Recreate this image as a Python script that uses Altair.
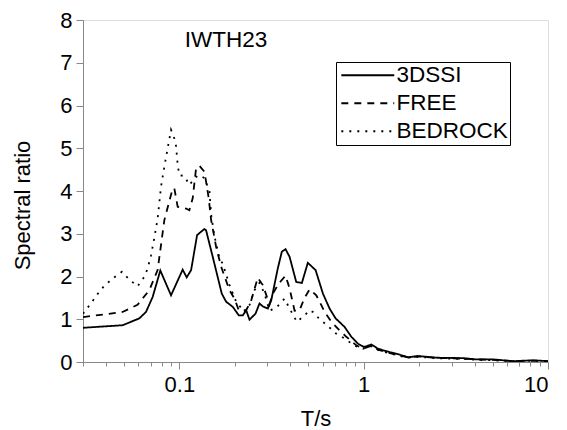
import altair as alt
import pandas as pd

# ---- data ----
series_names = ["3DSSI", "FREE", "BEDROCK"]

ssi_T = [0.03, 0.0492, 0.0606, 0.0659, 0.0716, 0.0788, 0.0901, 0.1042, 0.1096, 0.1158,
         0.1248, 0.1367, 0.1396, 0.1517, 0.1698, 0.1794, 0.1949, 0.2101, 0.2208, 0.2304,
         0.2401, 0.2588, 0.2722, 0.2836, 0.302, 0.315, 0.342, 0.3597, 0.3767, 0.3963,
         0.4307, 0.4621, 0.4977, 0.5483, 0.601, 0.653, 0.704, 0.788, 0.857, 0.931,
         1.004, 1.101, 1.197, 1.384, 1.57, 1.741, 1.973, 2.484, 3.465, 4.10,
         5.045, 6.48, 8.32, 10.0]
ssi_v = [0.80, 0.86, 1.02, 1.17, 1.52, 2.14, 1.56, 2.16, 1.98, 2.15,
         2.97, 3.11, 3.08, 2.46, 1.60, 1.41, 1.29, 1.09, 1.09, 1.21,
         0.99, 1.13, 1.37, 1.30, 1.25, 1.44, 2.19, 2.58, 2.64, 2.46,
         1.87, 1.85, 2.32, 2.15, 1.60, 1.25, 1.02, 0.82, 0.59, 0.43,
         0.35, 0.41, 0.31, 0.23, 0.17, 0.11, 0.14, 0.10, 0.09, 0.06,
         0.06, 0.02, 0.04, 0.02]

free_T = [0.03, 0.0492, 0.0593, 0.0687, 0.0762, 0.0829, 0.092, 0.0939, 0.0979, 0.1087,
          0.1133, 0.1181, 0.1232, 0.1284, 0.1367, 0.1396, 0.1443, 0.1487, 0.1583, 0.1685,
          0.187, 0.1991, 0.2101, 0.2304, 0.2453, 0.2664, 0.2836, 0.3083, 0.3214, 0.3467,
          0.3767, 0.3963, 0.4217, 0.4487, 0.4776, 0.5088, 0.553, 0.589, 0.614, 0.6675,
          0.74, 0.805, 0.912, 0.991, 1.101, 1.197, 1.384, 1.57, 1.741, 1.973,
          2.484, 3.465, 4.10, 5.045, 6.48, 8.32, 10.0]
free_v = [1.05, 1.17, 1.34, 1.68, 2.15, 3.32, 4.06, 4.06, 3.63, 3.59,
          3.55, 3.83, 4.53, 4.59, 4.45, 4.22, 3.83, 3.32, 2.69, 2.23,
          1.68, 1.48, 1.21, 1.21, 1.44, 1.97, 1.80, 1.35, 1.60, 1.84,
          2.02, 1.72, 1.20, 1.21, 1.50, 1.70, 1.56, 1.33, 1.17, 0.94,
          0.74, 0.59, 0.39, 0.31, 0.38, 0.29, 0.21, 0.15, 0.11, 0.13,
          0.10, 0.08, 0.06, 0.05, 0.02, 0.03, 0.02]

rock_T = [0.03, 0.0331, 0.036, 0.0391, 0.0434, 0.0488, 0.0535, 0.0593, 0.0645, 0.0673,
          0.0702, 0.0731, 0.0762, 0.0795, 0.0829, 0.0864, 0.0901, 0.0939, 0.096, 0.0979,
          0.1, 0.1065, 0.1133, 0.1172, 0.1232, 0.1284, 0.1367, 0.1456, 0.1487, 0.1549,
          0.165, 0.1719, 0.187, 0.2033, 0.2255, 0.2401, 0.2556, 0.2722, 0.2897, 0.3083,
          0.3354, 0.3722, 0.3963, 0.434, 0.4776, 0.5088, 0.5302, 0.5715, 0.64, 0.7105,
          0.788, 0.893, 0.991, 1.101, 1.197, 1.384, 1.57, 1.741, 1.973, 2.484,
          3.465, 4.10, 5.045, 6.48, 8.32, 10.0]
rock_v = [1.13, 1.37, 1.59, 1.78, 1.95, 2.11, 1.93, 1.77, 1.99, 2.19,
          2.50, 2.90, 3.35, 4.10, 4.57, 5.00, 5.43, 5.23, 5.04, 4.61,
          4.37, 4.35, 4.14, 4.22, 4.33, 4.37, 4.30, 4.00, 3.45, 2.95,
          2.42, 2.30, 1.80, 1.41, 1.17, 1.33, 1.68, 1.85, 1.60, 1.20,
          1.27, 1.48, 1.25, 0.94, 1.09, 1.21, 1.17, 1.02, 0.84, 0.66,
          0.55, 0.38, 0.31, 0.37, 0.28, 0.20, 0.14, 0.10, 0.12, 0.09,
          0.07, 0.05, 0.04, 0.02, 0.03, 0.02]

annot_text = ["IWTH23"]
annot_T = [0.179]
annot_y = [7.53]

x_tick_values = [0.03, 0.04, 0.05, 0.06, 0.07, 0.08, 0.09, 0.1,
                 0.2, 0.3, 0.4, 0.5, 0.6, 0.7, 0.8, 0.9, 1,
                 2, 3, 4, 5, 6, 7, 8, 9, 10]
y_tick_values = [0, 0.5, 1, 1.5, 2, 2.5, 3, 3.5, 4, 4.5, 5, 5.5, 6, 6.5, 7, 7.5, 8]

dash_patterns = [[1, 0], [7, 6], [2, 6]]

FONT = "Liberation Sans"

rows = []
for name, Ts, vs in [("3DSSI", ssi_T, ssi_v), ("FREE", free_T, free_v), ("BEDROCK", rock_T, rock_v)]:
    for t, v in zip(Ts, vs):
        rows.append({"T": t, "ratio": v, "series": name})
df = pd.DataFrame(rows)

annot_df = pd.DataFrame({"T": annot_T, "ratio": annot_y, "text": annot_text})

x_scale = alt.Scale(type="log", domain=[0.03, 10], nice=False)
y_scale = alt.Scale(domain=[0, 8], nice=False)

x_axis = alt.Axis(
    values=x_tick_values,
    title="T/s",
    labelExpr="indexof([0.1, 1, 10], datum.value) >= 0 ? toString(datum.value) : ''",
    labelOverlap=False,
    labelFontSize=22,
    titleFontSize=22,
    titleFontWeight="normal",
    titlePadding=13,
    labelPadding=5,
    tickSize={"condition": {"test": "indexof([0.1, 1, 10], datum.value) >= 0", "value": 7}, "value": 4},
    grid=False,
)
y_axis = alt.Axis(
    values=y_tick_values,
    title="Spectral ratio",
    labelExpr="datum.value % 1 == 0 ? toString(datum.value) : ''",
    labelOverlap=False,
    labelFontSize=22,
    titleFontSize=22,
    titleFontWeight="normal",
    titlePadding=25,
    titleY=185,
    labelPadding=4,
    tickSize={"condition": {"test": "datum.value % 1 == 0", "value": 7}, "value": 4},
    grid=False,
)

lines = alt.Chart(df).mark_line(color="black", strokeWidth=1.8, clip=True).encode(
    x=alt.X("T:Q", scale=x_scale, axis=x_axis),
    y=alt.Y("ratio:Q", scale=y_scale, axis=y_axis),
    strokeDash=alt.StrokeDash(
        "series:N",
        scale=alt.Scale(domain=series_names, range=dash_patterns),
        legend=alt.Legend(
            title=None,
            orient="none",
            legendX=253,
            legendY=42,
            strokeColor="black",
            fillColor="white",
            padding=2,
            symbolType="M-1.5,0H8.5",
            symbolSize=112,
            symbolStrokeWidth=1.8,
            symbolStrokeColor="black",
            labelFontSize=22.5,
            labelFont=FONT,
            labelColor="black",
            labelOffset=36,
            rowPadding=5,
        ),
    ),
)

annot = alt.Chart(annot_df).mark_text(fontSize=22.5, font=FONT, color="black").encode(
    x=alt.X("T:Q", scale=x_scale),
    y=alt.Y("ratio:Q", scale=y_scale),
    text="text:N",
)

chart = alt.layer(lines, annot).properties(
    width=465,
    height=342,
    autosize="none",
    padding={"left": 75, "top": 12, "right": 10, "bottom": 68},
).configure_view(stroke=None).configure_axis(
    domainColor="black",
    domainWidth=1.5,
    tickColor="black",
    tickWidth=1.5,
    labelColor="black",
    titleColor="black",
    labelFont=FONT,
    titleFont=FONT,
).configure(background="white")

chart.save("out.html", embed_options={"renderer": "svg", "actions": False})
